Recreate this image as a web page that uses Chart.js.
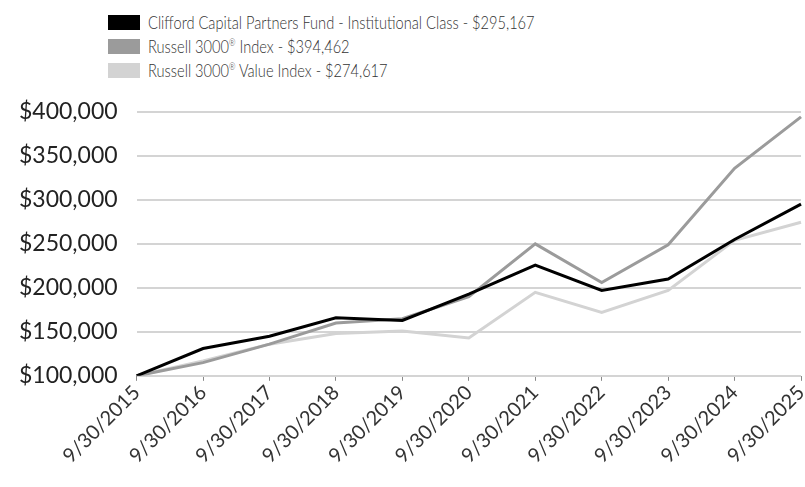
<!DOCTYPE html>
<html>
<head>
<meta charset="utf-8">
<script src="https://cdn.jsdelivr.net/npm/chart.js@4"></script>
<style>
  body { margin: 0; background: #fff; overflow: hidden; width: 805px; height: 487px; position: relative; }
  .chart-wrap { position: absolute; left: 0; top: 0; width: 818px; height: 487px; }
  .legend { position: absolute; left: 108px; top: 10px; font-family: Lato, sans-serif; font-weight: 300; font-size: 17px; color: #333; }
  .legend div { display: flex; align-items: center; height: 24px; }
  .legend span.box { display: inline-block; width: 32px; height: 15px; margin-right: 8px; }
  .legend span.txt { display: inline-block; transform: scaleX(0.86); transform-origin: left center; white-space: nowrap; }
  .legend sup { font-size: 9px; }
</style>
</head>
<body>
<div class="legend"></div>
<div class="chart-wrap"><canvas class="growth-chart"></canvas></div>
<script>
const dates = ['9/30/2015', '9/30/2016', '9/30/2017', '9/30/2018', '9/30/2019', '9/30/2020',
  '9/30/2021', '9/30/2022', '9/30/2023', '9/30/2024', '9/30/2025'];
const clifford = [100000, 131000, 145000, 166000, 163000, 193000, 226000, 197000, 210000, 255000, 295167];
const russell3000 = [100000, 115000, 136000, 160000, 165000, 190000, 250000, 206000, 249000, 336000, 394462];
const russellValue = [100000, 117000, 136000, 148000, 151000, 143000, 195000, 172000, 197000, 254000, 274617];
const seriesNames = [
  'Clifford Capital Partners Fund - Institutional Class - $295,167',
  'Russell 3000<sup>®</sup> Index - $394,462',
  'Russell 3000<sup>®</sup> Value Index - $274,617'
];
const colors = ['#000000', '#9b9b9b', '#d3d3d3'];

const money = v => '$' + v.toLocaleString('en-US');

const legend = document.querySelector('.legend');
legend.innerHTML = seriesNames.map((name, i) =>
  `<div><span class="box" style="background:${colors[i]}"></span><span class="txt">${name}</span></div>`
).join('');

const ctx = document.querySelector('.growth-chart').getContext('2d');
// the original type is wide, so spread the canvas text a little
ctx.letterSpacing = '1px';

new Chart(ctx, {
  type: 'line',
  data: {
    labels: dates,
    datasets: [clifford, russell3000, russellValue].map((data, i) => ({
      label: seriesNames[i].replace(/<\/?sup>/g, ''),
      data,
      borderColor: colors[i],
      borderWidth: 3,
      pointRadius: 0,
      tension: 0
    }))
  },
  options: {
    responsive: true,
    maintainAspectRatio: false,
    animation: false,
    layout: { padding: { top: 112, bottom: 19, left: 0, right: 0 } },
    plugins: { legend: { display: false }, tooltip: { enabled: false } },
    scales: {
      x: {
        offset: false,
        border: { display: false },
        grid: { drawOnChartArea: false, color: '#888', tickLength: 5, tickWidth: 1 },
        ticks: {
          autoSkip: false, maxRotation: 45, minRotation: 45, padding: 0,
          color: '#333', font: { family: 'Lato', size: 20 }
        }
      },
      y: {
        min: 100000, max: 400000,
        border: { display: false },
        grid: { color: '#d4d4d4', lineWidth: 2, drawTicks: false },
        ticks: {
          stepSize: 50000, padding: 19, color: '#222',
          font: { family: 'Lato', size: 23 },
          callback: v => money(v)
        }
      }
    }
  }
});
</script>
</body>
</html>
